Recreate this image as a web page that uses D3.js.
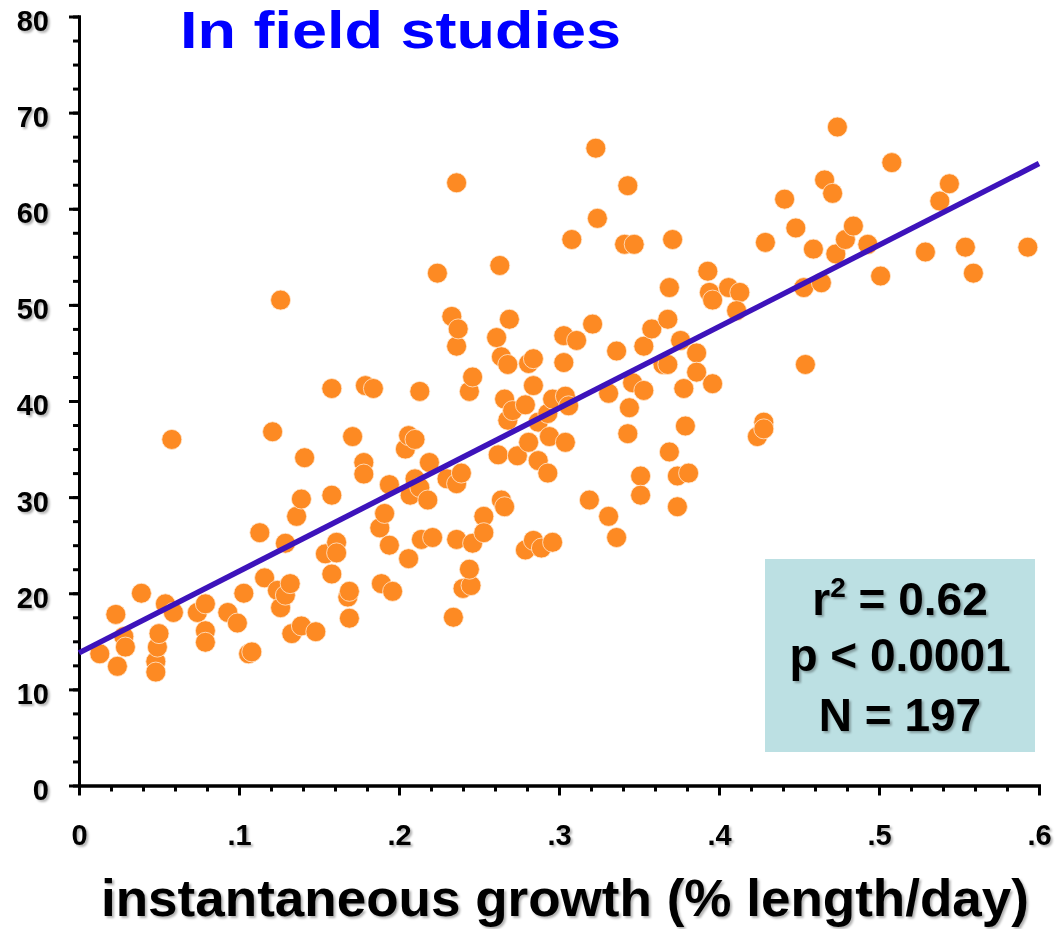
<!DOCTYPE html>
<html>
<head>
<meta charset="utf-8">
<script src="https://cdn.jsdelivr.net/npm/d3@7"></script>
<style>
body{margin:0;background:#fff;}
svg{display:block;font-family:"Liberation Sans",Arial,Helvetica,sans-serif;font-weight:bold;}
</style>
</head>
<body>
<svg id="chart"></svg>
<script>
// instantaneous growth (% length/day)
var growth = [
  .013,.024,.023,.028,.029,.039,.048,.048,.049,.050,
  .054,.059,.058,.074,.079,.079,.079,.093,.099,.103,
  .106,.108,.113,.116,.121,.124,.126,.129,.129,.132,
  .133,.126,.136,.139,.139,.141,.148,.154,.158,.158,
  .158,.161,.161,.168,.169,.169,.171,.178,.178,.179,
  .184,.188,.189,.191,.194,.194,.196,.204,.206,.206,
  .207,.210,.210,.213,.213,.214,.218,.219,.221,.224,
  .230,.233,.234,.236,.236,.236,.236,.237,.239,.240,
  .245,.244,.244,.246,.246,.253,.253,.261,.262,.263,
  .264,.264,.266,.266,.268,.268,.269,.271,.274,.279,
  .279,.281,.281,.284,.284,.284,.287,.287,.289,.293,
  .293,.294,.296,.296,.303,.303,.304,.304,.306,.308,
  .311,.319,.321,.323,.324,.331,.331,.336,.336,.341,
  .343,.343,.344,.346,.347,.351,.351,.353,.353,.358,
  .365,.368,.368,.369,.369,.371,.374,.374,.376,.378,
  .379,.381,.386,.386,.393,.394,.396,.396,.406,.413,
  .411,.424,.428,.428,.429,.441,.448,.453,.454,.459,
  .464,.466,.471,.473,.474,.479,.484,.493,.501,.508,
  .529,.538,.544,.554,.559,.593
];
// y values
var size = [
  13.7,12.4,17.8,15.5,14.4,20.0,12.9,11.8,14.4,15.8,
  18.9,18.0,36.0,18.0,18.9,16.1,14.9,18.0,16.9,20.0,
  13.7,13.9,26.3,21.6,36.8,20.3,18.5,19.8,25.2,21.0,
  15.8,50.5,28.0,29.8,16.6,34.1,16.0,24.1,30.2,41.3,
  22.0,25.3,24.2,19.6,20.2,17.4,36.3,33.6,32.4,41.6,
  41.3,26.8,21.0,28.3,31.3,25.0,20.2,35.0,36.4,23.6,
  30.2,36.0,31.9,41.0,31.0,25.6,29.7,33.6,25.8,53.3,
  31.9,48.8,17.5,62.7,45.7,31.4,25.6,47.5,32.5,20.5,
  20.8,22.5,41.0,42.5,25.2,28.0,26.3,46.6,34.4,54.1,
  44.6,29.7,40.2,29.0,43.8,38.0,48.5,39.0,34.3,39.6,
  24.5,43.9,35.7,44.4,41.6,25.5,33.8,37.8,24.7,32.5,
  38.7,36.3,40.2,25.3,46.8,44.0,40.5,35.7,39.5,56.8,
  46.3,29.7,48.0,66.3,59.0,40.8,28.0,45.2,25.8,56.3,
  62.4,36.6,39.3,41.9,56.3,32.2,30.2,45.7,41.1,47.5,
  43.8,43.8,48.5,51.8,34.7,56.8,32.2,29.0,46.3,41.3,
  37.4,32.5,45.0,43.0,53.5,51.3,50.5,41.8,51.8,51.3,
  49.4,36.3,37.8,37.1,56.5,61.0,58.0,51.8,43.8,55.8,
  52.3,63.0,61.6,55.3,68.5,56.8,58.2,56.3,53.0,64.8,
  55.5,60.8,62.6,56.0,53.3,56.0
];
var fitX = [0, 0.6];
var fitY = [13.8, 64.7];
var yTicks = [0,10,20,30,40,50,60,70,80];
var xTicks = [0,0.1,0.2,0.3,0.4,0.5,0.6];
var xTickLabels = ["0",".1",".2",".3",".4",".5",".6"];
var statLines = ["= 0.62","p < 0.0001","N = 197"];

var W = 1060, H = 929;
var svg = d3.select('#chart').attr('width',W).attr('height',H);

var defs = svg.append('defs');
var f = defs.append('filter').attr('id','shadow').attr('x','-20%').attr('y','-20%').attr('width','140%').attr('height','140%');
f.append('feDropShadow').attr('dx',2).attr('dy',2).attr('stdDeviation',1.2)
  .attr('flood-color','#000').attr('flood-opacity',0.3);

var x = d3.scaleLinear().domain([0,0.6]).range([79,1039]);
var y = d3.scaleLinear().domain([0,80]).range([785.5,16.5]);

// minor ticks
var xMinor = d3.range(0,0.6001,0.02);
var yMinor = d3.range(0,80.001,2.5);

function styleAxis(g){
  g.selectAll('.domain').attr('stroke','#000').attr('stroke-width',3).attr('stroke-linecap','square');
  g.selectAll('.tick line').attr('stroke','#000').attr('stroke-width',3);
}

var gxm = svg.append('g').attr('transform','translate(0,785.5)')
  .call(d3.axisBottom(x).tickValues(xMinor).tickSize(6).tickSizeOuter(0).tickFormat(''));
styleAxis(gxm);
var gx = svg.append('g').attr('transform','translate(0,785.5)')
  .call(d3.axisBottom(x).tickValues(xTicks).tickSize(10).tickSizeOuter(0).tickPadding(29)
    .tickFormat(function(d,i){return xTickLabels[i];}));
styleAxis(gx);
gx.attr('font-family',null).attr('font-size',29);
gx.selectAll('.tick text').attr('fill','#000').attr('filter','url(#shadow)');

var gym = svg.append('g').attr('transform','translate(79,0)')
  .call(d3.axisLeft(y).tickValues(yMinor).tickSize(6).tickSizeOuter(0).tickFormat(''));
styleAxis(gym);
var gy = svg.append('g').attr('transform','translate(79,0)')
  .call(d3.axisLeft(y).tickValues(yTicks).tickSize(10).tickSizeOuter(0).tickPadding(20));
styleAxis(gy);
gy.attr('font-family',null).attr('font-size',29);
gy.selectAll('.tick text').attr('fill','#000').attr('dy','0.48em').attr('filter','url(#shadow)');

// points
var pts = growth.map(function(g,i){return {g:g, s:size[i]};});
svg.append('g').selectAll('circle').data(pts).enter().append('circle')
  .attr('cx',function(d){return x(d.g);})
  .attr('cy',function(d){return y(d.s);})
  .attr('r',10)
  .attr('fill','#fd8a23')
  .attr('stroke','#ffe9d2')
  .attr('stroke-width',0.8);

// regression line
svg.append('line')
  .attr('x1',x(fitX[0])).attr('y1',y(fitY[0]))
  .attr('x2',x(fitX[1])).attr('y2',y(fitY[1]))
  .attr('stroke','#3d13bb').attr('stroke-width',5.5);

// title
svg.append('text').attr('x',180).attr('y',48)
  .attr('font-size',52).attr('fill','#0000ff')
  .attr('textLength',441).attr('lengthAdjust','spacingAndGlyphs')
  .text('In field studies');

// x label
svg.append('text').attr('x',101).attr('y',916)
  .attr('font-size',52).attr('fill','#000')
  .attr('textLength',928).attr('lengthAdjust','spacingAndGlyphs')
  .attr('filter','url(#shadow)')
  .text('instantaneous growth (% length/day)');

// stats box
svg.append('rect').attr('x',765).attr('y',559).attr('width',270).attr('height',193)
  .attr('fill','#bce0e3');
var st = svg.append('g').attr('font-size',46).attr('fill','#000').attr('text-anchor','middle')
  .attr('filter','url(#shadow)');
var t0 = st.append('text').attr('x',900).attr('y',615);
t0.append('tspan').text('r');
t0.append('tspan').attr('font-size',28).attr('dy',-18).text('2');
t0.append('tspan').attr('dy',18).text(' ' + statLines[0]);
st.append('text').attr('x',900).attr('y',671).text(statLines[1]);
st.append('text').attr('x',900).attr('y',731).text(statLines[2]);
</script>
</body>
</html>
